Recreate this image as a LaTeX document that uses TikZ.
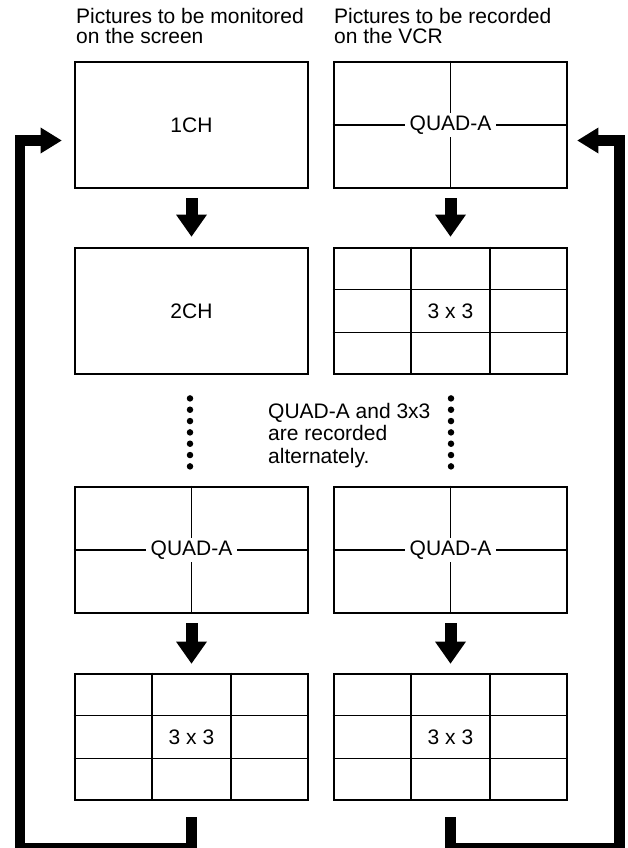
\documentclass[tikz,border=0pt]{standalone}
\usepackage{fontspec}
\setmainfont{Liberation Sans}
\usetikzlibrary{calc,arrows.meta}
\begin{document}
\begin{tikzpicture}[x=1pt,y=-1pt,
  screen/.style={draw, line width=2.8pt, minimum width=233pt, minimum height=126pt, inner sep=0pt, font=\fontsize{21}{22}\selectfont},
  gridln/.style={line width=1.6pt},
  crossln/.style={line width=1.4pt},
  quadlbl/.style={fill=white, inner xsep=5pt, inner ysep=0pt, minimum height=24pt, font=\fontsize{21}{22}\selectfont},
  downarrow/.style={line width=12pt, -{Triangle[width=31pt,length=22pt,line width=0pt]}},
  loopline/.style={line width=10.5pt, line join=miter, -{Triangle[width=26pt,length=21pt,line width=0pt]}},
  hdr/.style={align=left, inner sep=0pt, anchor=north west, font=\fontsize{21}{19.5}\selectfont},
  note/.style={align=left, inner sep=0pt, anchor=north west, font=\fontsize{21}{22.5}\selectfont},
  dot/.style={fill, circle, inner sep=0pt, minimum size=6.5pt}
]
\useasboundingbox (0,0) rectangle (628,848);
\clip (0,0) rectangle (628,848);
\fill[white] (0,0) rectangle (628,848);

% headers
\node[hdr] (h1) at (76,8.5) {Pictures to be monitored\\on the screen};
\node[hdr] (h2) at (334,8.5) {Pictures to be recorded\\on the VCR};

% screens
\node[screen] (m1) at (191.5,125) {1CH};
\node[screen] (m2) at (191.5,311) {2CH};
\node[screen] (m3) at (191.5,550) {};
\node[screen] (m4) at (191.5,737) {3 x 3};
\node[screen] (r1) at (450.5,125) {};
\node[screen] (r2) at (450.5,311) {3 x 3};
\node[screen] (r3) at (450.5,550) {};
\node[screen] (r4) at (450.5,737) {3 x 3};

% 3x3 grids
\foreach \n in {m4,r2,r4} {
  \draw[gridln] ($(\n.north west)!1/3!(\n.north east)$) -- ($(\n.south west)!1/3!(\n.south east)$);
  \draw[gridln] ($(\n.north west)!2/3!(\n.north east)$) -- ($(\n.south west)!2/3!(\n.south east)$);
  \draw[gridln] ($(\n.north west)!1/3!(\n.south west)$) -- ($(\n.north east)!1/3!(\n.south east)$);
  \draw[gridln] ($(\n.north west)!2/3!(\n.south west)$) -- ($(\n.north east)!2/3!(\n.south east)$);
}

% quad screens
\foreach \n/\l in {m3/q1, r1/q2, r3/q3} {
  \draw[crossln] (\n.north) -- (\n.south);
  \draw[crossln] (\n.west) -- (\n.east);
  \node[quadlbl] (\l) at (\n.center) {QUAD-A};
}

% down arrows
\draw[downarrow] ($(m1.south)+(0,9)$) -- ($(m2.north)+(0,-10)$);
\draw[downarrow] ($(r1.south)+(0,9)$) -- ($(r2.north)+(0,-10)$);
\draw[downarrow] ($(m3.south)+(0,9)$) -- ($(m4.north)+(0,-9)$);
\draw[downarrow] ($(r3.south)+(0,9)$) -- ($(r4.north)+(0,-9)$);

% dots
\foreach \i in {0,...,6} {
  \node[dot] (dl\i) at ($(m2.south)+(-1.5,{23+\i*11.33})$) {};
  \node[dot] (dr\i) at ($(r2.south)+(0.5,{23+\i*11.33})$) {};
}

% note
\node[note] (nt) at (268,403) {QUAD-A and 3x3\\are recorded\\alternately.};

% return loops
\draw[loopline] ($(m4.south)+(0,16)$) -- ($(m4.south)+(0,47)$) -| ($(m1.west)+(-53.5,15.5)$) -- ($(m1.west)+(-12,15.5)$);
\draw[loopline] ($(r4.south)+(0,16)$) -- ($(r4.south)+(0,47)$) -| ($(r1.east)+(51,15.5)$) -- ($(r1.east)+(9,15.5)$);
\end{tikzpicture}
\end{document}
